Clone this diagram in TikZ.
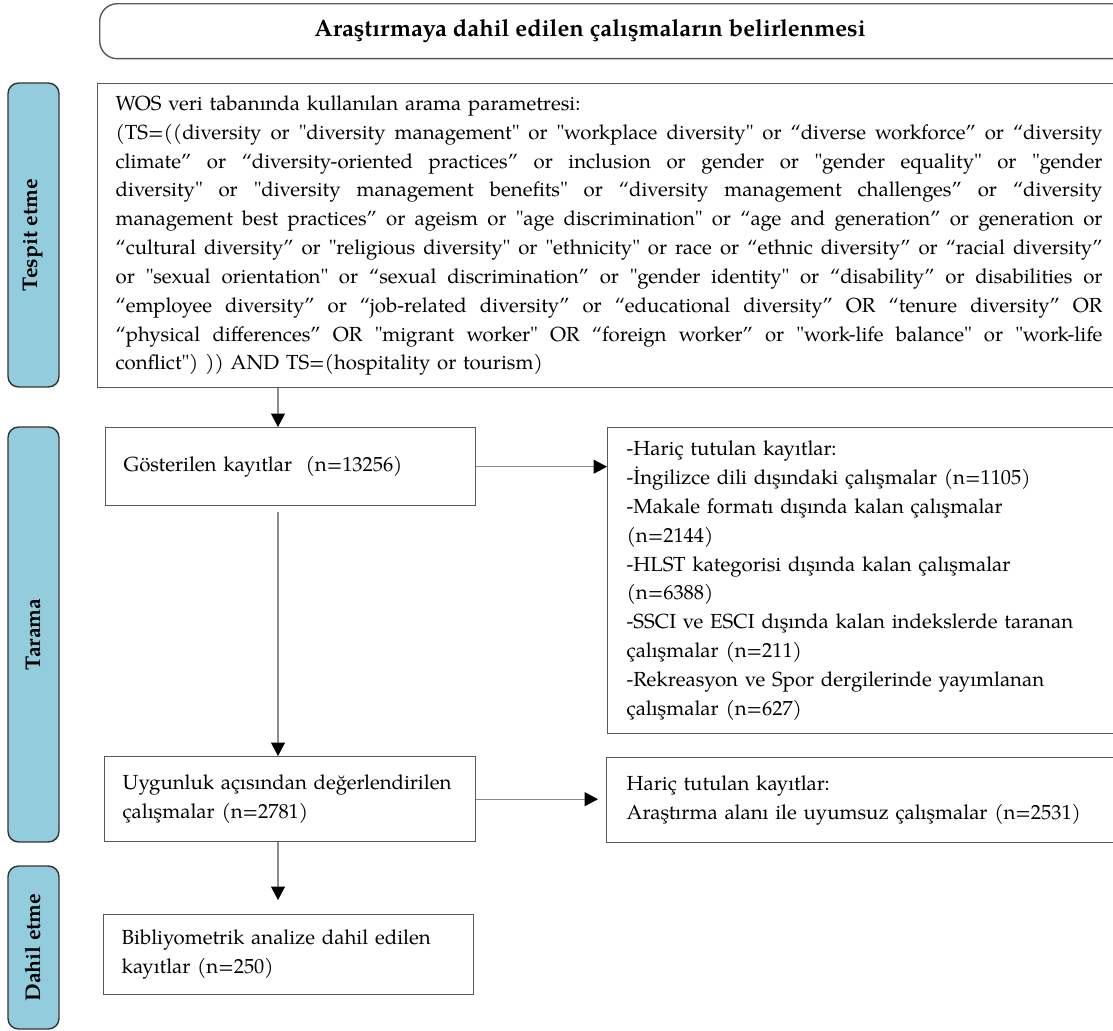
\documentclass[tikz,border=0pt]{standalone}
\usepackage{fontspec}
\newfontfamily\pagella{TeX Gyre Pagella}
\usetikzlibrary{arrows.meta}
\definecolor{stageblue}{RGB}{147,205,221}
\newcommand{\jline}[1]{\makebox[19.74cm][s]{\spaceskip=0pt\xspaceskip=0pt #1}}

\begin{document}
\begin{tikzpicture}[
        x=0.02cm,
        y=-0.02cm,
        every node/.style={font=\pagella\fontsize{11.6}{16.4}\selectfont,inner sep=0pt},
        stage label/.style={draw=black!80,fill=stageblue,rounded corners=6pt,line width=0.8pt,rotate=90,minimum height=1.02cm,font=\pagella\fontsize{12.1}{14}\selectfont\bfseries},
        head frame/.style={draw=black!65,rounded corners=10pt,line width=0.8pt,minimum width=20.7cm,minimum height=1.1cm},
        record box/.style={draw=black!65,line width=0.8pt,align=left,inner xsep=0.36cm},
        flow line/.style={black!45,line width=0.7pt},
        flow arrow/.style={flow line,-{Triangle[black,length=0.27cm,width=0.28cm]}}
    ]
        \useasboundingbox (0,0) rectangle (1113,1031);

        \node[head frame,anchor=north west] (headbox) at (99,3) {};
        \node[font=\pagella\fontsize{13.5}{16}\selectfont\bfseries] (head) at (590,31) {Araştırmaya dahil edilen çalışmaların belirlenmesi};

        \foreach \name/\y/\len/\txt in {tespit/235/6.08/Tespit etme,tarama/634.5/8.3/Tarama,dahil/947.5/3.26/Dahil etme} {
            \node[stage label,minimum width=\len cm] (\name) at (33.5,\y) {\txt};
        }

        \node[record box,text width=19.74cm,minimum height=6.08cm,anchor=north west] (wos) at (97,83) {WOS veri tabanında kullanılan arama parametresi:\\
            \jline{(TS=((diversity or "diversity management" or "workplace diversity" or “diverse workforce” or “diversity}\\
            \jline{climate” or “diversity-oriented practices” or inclusion or gender or "gender equality" or "gender}\\
            \jline{diversity" or "diversity management benefits" or “diversity management challenges” or “diversity}\\
            \jline{management best practices” or ageism or "age discrimination" or “age and generation” or generation or}\\
            \jline{“cultural diversity” or "religious diversity" or "ethnicity" or race or “ethnic diversity” or “racial diversity”}\\
            \jline{or "sexual orientation" or “sexual discrimination” or "gender identity" or “disability” or disabilities or}\\
            \jline{“employee diversity” or “job-related diversity” or “educational diversity” OR “tenure diversity” OR}\\
            \jline{“physical differences” OR "migrant worker" OR “foreign worker” or "work-life balance" or "work-life}\\
            conflict") )) AND TS=(hospitality or tourism)};

        \node[record box,text width=6.68cm,minimum height=1.56cm,anchor=north west] (shown) at (105,427) {Gösterilen kayıtlar~ (n=13256)};
        \node[record box,text width=10cm,minimum height=6.12cm,inner xsep=0.38cm,anchor=north west] (excluded) at (607,427) {-Hariç tutulan kayıtlar:\\
            -İngilizce dili dışındaki çalışmalar (n=1105)\\
            -Makale formatı dışında kalan çalışmalar\\
            (n=2144)\\
            -HLST kategorisi dışında kalan çalışmalar\\
            (n=6388)\\
            -SSCI ve ESCI dışında kalan indekslerde taranan\\
            çalışmalar (n=211)\\
            -Rekreasyon ve Spor dergilerinde yayımlanan\\
            çalışmalar (n=627)};
        \node[record box,text width=6.7cm,minimum height=1.7cm,anchor=north west] (eligible) at (104,756) {Uygunluk açısından değerlendirilen\\ çalışmalar (n=2781)};
        \node[record box,text width=10cm,minimum height=1.7cm,inner xsep=0.4cm,anchor=north west] (offtopic) at (606,757) {Hariç tutulan kayıtlar:\\ Araştırma alanı ile uyumsuz çalışmalar (n=2531)};
        \node[record box,text width=6.68cm,minimum height=1.6cm,anchor=north west] (included) at (103,914) {Bibliyometrik analize dahil edilen\\ kayıtlar (n=250)};

        \coordinate (spine) at (278,0);
        \draw[flow arrow] (wos.south -| spine) -- (shown.north -| spine);
        \draw[flow arrow] (shown.east) -- (shown.east -| excluded.west);
        \draw[flow arrow,shorten <=0.12cm] (shown.south -| spine) -- (eligible.north -| spine);
        \draw[flow arrow,shorten >=0.16cm] (eligible.east) -- (eligible.east -| offtopic.west);
        \draw[flow arrow,shorten >=0.28cm] (eligible.south -| spine) -- (included.north -| spine);
    \end{tikzpicture}
\end{document}
